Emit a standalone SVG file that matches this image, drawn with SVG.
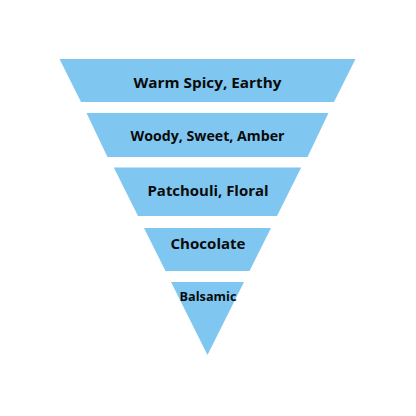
<svg xmlns="http://www.w3.org/2000/svg" width="416" height="416" viewBox="0 0 416 416">
<style>
.seg{fill:#7FC7F1;}
.lbl{font-family:"Open Sans","Liberation Sans",sans-serif;font-weight:700;fill:#0a0a0a;text-anchor:middle;}
</style>
<rect width="416" height="416" fill="#ffffff"/>
<g id="level1"><polygon class="seg" points="59.5,59 355.5,59 334,102 81,102"/><text class="lbl" x="207.5" y="87.5" font-size="15" textLength="148" lengthAdjust="spacingAndGlyphs">Warm Spicy, Earthy</text></g>
<g id="level2"><polygon class="seg" points="86.5,113 328.5,113 307.5,157 107.5,157"/><text class="lbl" x="207.5" y="141" font-size="14" textLength="154" lengthAdjust="spacingAndGlyphs">Woody, Sweet, Amber</text></g>
<g id="level3"><polygon class="seg" points="113.8,167.5 301.2,167.5 277,216 138,216"/><text class="lbl" x="208" y="196" font-size="15" textLength="121" lengthAdjust="spacingAndGlyphs">Patchouli, Floral</text></g>
<g id="level4"><polygon class="seg" points="144,228 271,228 249.5,271 165.5,271"/><text class="lbl" x="208" y="249" font-size="15" textLength="75" lengthAdjust="spacingAndGlyphs">Chocolate</text></g>
<g id="level5"><polygon class="seg" points="171,282 244,282 207.5,355"/><text class="lbl" x="208" y="301" font-size="12.5" textLength="57" lengthAdjust="spacingAndGlyphs">Balsamic</text></g>
<g id="connectors"/>
</svg>
